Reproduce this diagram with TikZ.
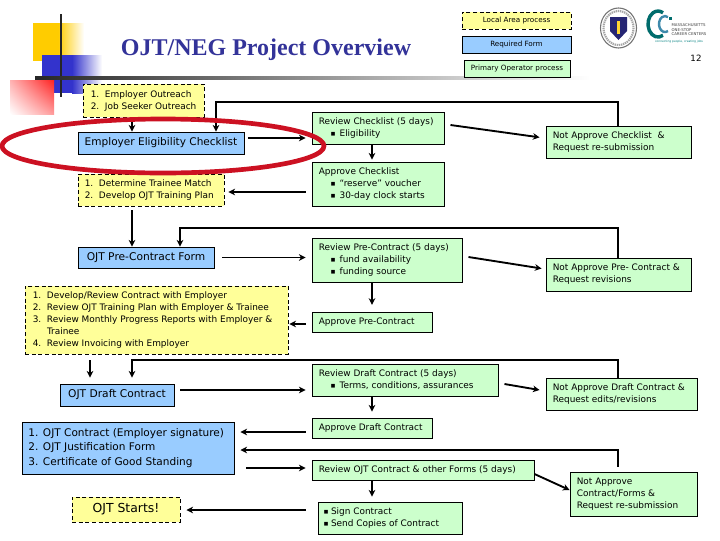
\documentclass[tikz,border=0pt]{standalone}
\usepackage{fontspec}
\setmainfont{DejaVu Sans}
\newfontfamily\titlefont{Liberation Serif}
\usetikzlibrary{arrows.meta,calc,shadings}
\definecolor{nyellow}{HTML}{FFFF99}
\definecolor{nblue}{HTML}{99CCFF}
\definecolor{ngreen}{HTML}{CCFFCC}
\definecolor{ntitle}{HTML}{333399}
\definecolor{dyellow}{HTML}{FFCC00}
\definecolor{dblue}{HTML}{3333CC}
\definecolor{dred}{HTML}{FF2222}
\definecolor{ering}{HTML}{CC1122}
\newcommand\pbox[7]{% style,name,x1,y1,x2,y2,text
  \pgfmathsetlengthmacro\pboxw{(#5-#3)*0.75pt}
  \pgfmathsetlengthmacro\pboxh{(#6-#4)*0.75pt}
  \node[#1,minimum width=\pboxw,minimum height=\pboxh] (#2) at ({(#3+#5)/2},{(#4+#6)/2}) {#7};}
\newcommand\ptext[3]{% box name,left inset px,text
  \node[anchor=west,inner sep=0pt,align=left,font=\fontsize{6.7}{9}\selectfont] (#1t) at ([xshift=#2*0.75pt]#1.west) {#3};}
\tikzset{
  x=0.75pt,y=-0.75pt,
  base/.style={draw=black,line width=0.7pt,inner sep=0pt},
  yelbox/.style={base,fill=nyellow,dash pattern=on 3pt off 2pt},
  blubox/.style={base,fill=nblue},
  grnbox/.style={base,fill=ngreen},
  conn/.style={line width=1.4pt,draw=black,-{Stealth[length=5pt,width=5pt]}},
}
\newcommand\bulmark{\raisebox{.2ex}{\fontsize{3.6}{4}\selectfont■}}
\newcommand\bul{\hspace*{9pt}\bulmark\hspace{3.2pt}}
\newcommand\buls{\bulmark\hspace{2pt}}
\newcommand\lgd{\fontsize{5.4}{7}\selectfont}
\newcommand\frm{\fontsize{8}{10}\selectfont}
\begin{document}
\begin{tikzpicture}
\useasboundingbox (0,0) rectangle (720,540);
\fill[white] (0,0) rectangle (720,540);
% decoration
\fill[left color=dyellow,right color=white] (58,23) rectangle (84,61);
\fill[dyellow] (33,23) rectangle (58,61);
\fill[left color=dblue,right color=white] (72,55) rectangle (102,93);
\fill[dblue] (42,55) rectangle (72,93);
\shade[upper right=dred,upper left=dred!35,lower right=dred!45,lower left=white] (10,80) rectangle (54,114);
\draw[line width=2.2pt,draw=black!85] (61,14) -- (61,97);
\shade[left color=black!85,middle color=black!62,right color=white] (35,76) rectangle (590,79);
% title
\node[inner sep=0pt,text=ntitle,font=\titlefont\bfseries\fontsize{18}{20}\selectfont] (title) at (266,50) {OJT/NEG Project Overview};
\node[inner sep=0pt,font=\fontsize{6.5}{8}\selectfont] (pageno) at (696,58) {12};
% logos
\draw[line width=.8pt,draw=black!55,fill=white] (618.5,28) ellipse (18 and 20);
\draw[line width=1.6pt,draw=black!35,dash pattern=on 1pt off .6pt] (618.5,28) ellipse (15 and 17);
\fill[ntitle!75!black] (610,17) -- (627,17) -- (627,31) -- (618.5,40) -- (610,31) -- cycle;
\fill[dyellow!80!white] (617,21) rectangle (620,34);
\draw[line width=2.6pt,draw=teal!85!black] (663,35.3) arc (60:300:10 and 13);
\draw[line width=1.8pt,draw=cyan!65!black] (668,31) arc (60:300:6 and 8);
\fill[teal!85!black] (669,17) rectangle (672,20);
\node[inner sep=0pt,align=left,font=\fontsize{2.9}{3.4}\selectfont,text=black!75] (lg) at (689,30) {MASSACHUSETTS\\ONE-STOP\\CAREER CENTERS};
\node[inner sep=0pt,font=\fontsize{2.2}{3}\selectfont,text=teal] (lgb) at (679,42) {connecting people, creating jobs};
% legend
\pbox{yelbox}{lega}{462}{12}{571}{29}{\lgd Local Area process}
\pbox{blubox}{legb}{462}{36}{571}{53}{\lgd Required Form}
\pbox{grnbox}{legc}{464}{60}{570}{77}{\lgd Primary Operator process}
% left column
\pbox{yelbox}{out}{83}{84}{204}{117}{}
\ptext{out}{8}{1.\ \ Employer Outreach\\2.\ \ Job Seeker Outreach}
\pbox{blubox}{eec}{78}{132}{244}{154}{\fontsize{7.9}{10}\selectfont Employer Eligibility Checklist}
\pbox{yelbox}{det}{78}{174}{224}{206}{}
\ptext{det}{7}{1.\ \ Determine Trainee Match\\2.\ \ Develop OJT Training Plan}
\pbox{blubox}{pre}{78}{247}{214}{268}{\frm OJT Pre-Contract Form}
\pbox{yelbox}{dev}{25}{286}{288}{354}{}
\ptext{dev}{8}{1.\ \ Develop/Review Contract with Employer\\2.\ \ Review OJT Training Plan with Employer \& Trainee\\3.\ \ Review Monthly Progress Reports with Employer \&\\\phantom{3.\ \ }Trainee\\4.\ \ Review Invoicing with Employer}
\pbox{blubox}{dra}{60}{384}{174}{406}{\frm OJT Draft Contract}
\pbox{blubox}{con}{22}{422}{234}{474}{}
\node[anchor=west,inner sep=0pt,font=\fontsize{7.9}{11}\selectfont,align=left] (cont) at ([xshift=5pt]con.west) {1. OJT Contract (Employer signature)\\2. OJT Justification Form\\3. Certificate of Good Standing};
\pbox{yelbox}{sta}{72}{497}{180}{522}{\fontsize{9.3}{11}\selectfont OJT Starts!}
% middle column
\pbox{grnbox}{rv1}{312}{112}{444}{144}{}
\ptext{rv1}{7}{Review Checklist (5 days)\\\bul Eligibility}
\pbox{grnbox}{ap1}{312}{162}{444}{206}{}
\ptext{ap1}{7}{Approve Checklist\\\bul “reserve” voucher\\\bul 30-day clock starts}
\pbox{grnbox}{rv2}{312}{238}{462}{282}{}
\ptext{rv2}{7}{Review Pre-Contract (5 days)\\\bul fund availability\\\bul funding source}
\pbox{grnbox}{ap2}{312}{312}{432}{332}{}
\ptext{ap2}{7}{Approve Pre-Contract}
\pbox{grnbox}{rv3}{312}{364}{498}{396}{}
\ptext{rv3}{7}{Review Draft Contract (5 days)\\\bul Terms, conditions, assurances}
\pbox{grnbox}{ap3}{312}{418}{432}{438}{}
\ptext{ap3}{7}{Approve Draft Contract}
\pbox{grnbox}{rv4}{312}{460}{534}{480}{}
\ptext{rv4}{7}{Review OJT Contract \& other Forms (5 days)}
\pbox{grnbox}{sig}{318}{502}{462}{534}{}
\ptext{sig}{6}{\buls Sign Contract\\\buls Send Copies of Contract}
% right column
\pbox{grnbox}{na1}{546}{126}{691}{158}{}
\ptext{na1}{7}{Not Approve Checklist \ \&\\Request re-submission}
\pbox{grnbox}{na2}{546}{258}{691}{291}{}
\ptext{na2}{7}{Not Approve Pre- Contract \&\\Request revisions}
\pbox{grnbox}{na3}{546}{378}{697}{410}{}
\ptext{na3}{7}{Not Approve Draft Contract \&\\Request edits/revisions}
\pbox{grnbox}{na4}{570}{472}{697}{516}{}
\ptext{na4}{7}{Not Approve\\Contract/Forms \&\\Request re-submission}
% connector guides
\coordinate (xa) at (132,0);
\coordinate (xb) at (216,0);
\coordinate (xc) at (180,0);
\coordinate (xd) at (90,0);
\coordinate (xe) at (372,0);
\coordinate (xf) at (618,0);
\coordinate (ya) at (0,102);
\coordinate (yb) at (0,228);
\coordinate (yc) at (0,360);
\coordinate (yd) at (0,450);
% connectors: vertical flow on the left
\draw[conn] (xa |- out.south) -- (xa |- eec.north);
\draw[conn] ([yshift=-3pt]xa |- det.south) -- (xa |- pre.north);
\draw[conn] ([yshift=-4.5pt]xd |- dev.south) -- ([yshift=4.5pt]xd |- dra.north);
% returns from the Not Approve boxes
\draw[conn] (xf |- na1.north) -- (xf |- ya) -- (xb |- ya) -- (xb |- eec.north);
\draw[conn] (xf |- na2.north) -- (xf |- yb) -- (xc |- yb) -- (xc |- pre.north);
\draw[conn] (xf |- na3.north) -- (xf |- yc) -- (xa |- yc) -- ([yshift=4.5pt]xa |- dra.north);
\draw[conn] ([yshift=3.5pt]xf |- na4.north) -- (xf |- yd) -- ([xshift=4.5pt]con.east |- yd);
% forward to the review boxes
\draw[conn] ([xshift=2.5pt,yshift=3.75pt]eec.east) -- ([xshift=-4.5pt,yshift=3.75pt]eec.east -| rv1.west);
\draw[conn] ([xshift=6pt]pre.east) -- ([xshift=-4.5pt]pre.east -| rv2.west);
\draw[conn] ([xshift=4.5pt,yshift=3.75pt]dra.east) -- ([xshift=-4.5pt,yshift=3.75pt]dra.east -| rv3.west);
\draw[conn] ([xshift=9pt,yshift=1.5pt]con.east |- rv4.west) -- ([xshift=-4.5pt,yshift=1.5pt]rv4.west);
% review to approve
\draw[conn] (xe |- rv1.south) -- ([yshift=1.5pt]xe |- ap1.north);
\draw[conn] (xe |- rv2.south) -- ([yshift=5pt]xe |- ap2.north);
\draw[conn] (xe |- rv3.south) -- ([yshift=4.5pt]xe |- ap3.north);
\draw[conn] (xe |- rv4.south) -- ([yshift=3.75pt]xe |- sig.north);
% review to not approve
\draw[conn] ([xshift=4.5pt,yshift=2.25pt]rv1.east) -- ([xshift=-4.5pt,yshift=3.5pt]na1.west);
\draw[conn] ([xshift=4.5pt,yshift=2.25pt]rv2.east) -- ([xshift=-3pt,yshift=4.5pt]na2.west);
\draw[conn] ([xshift=4.5pt,yshift=-3pt]rv3.east) -- ([xshift=-4.5pt,yshift=3pt]na3.west);
\draw[conn] ([yshift=-3pt]rv4.east) -- ([yshift=3pt]na4.west);
% approve back to the left column
\draw[conn] ([xshift=-4.5pt,yshift=-6pt]ap1.west) -- ([xshift=3pt,yshift=-6pt]ap1.west -| det.east);
\draw[conn] ([xshift=-4.5pt,yshift=-1.5pt]ap2.west) -- ([xshift=.7pt,yshift=-1.5pt]ap2.west -| dev.east);
\draw[conn] ([xshift=-4.5pt,yshift=-3pt]ap3.west) -- ([xshift=4.5pt,yshift=-3pt]ap3.west -| con.east);
\draw[conn] ([xshift=-9pt,yshift=6pt]sig.west) -- ([xshift=4.5pt,yshift=6pt]sig.west -| sta.east);
% highlight
\draw[line width=3.5pt,draw=ering] (163,146) ellipse (161 and 27);
\end{tikzpicture}
\end{document}
